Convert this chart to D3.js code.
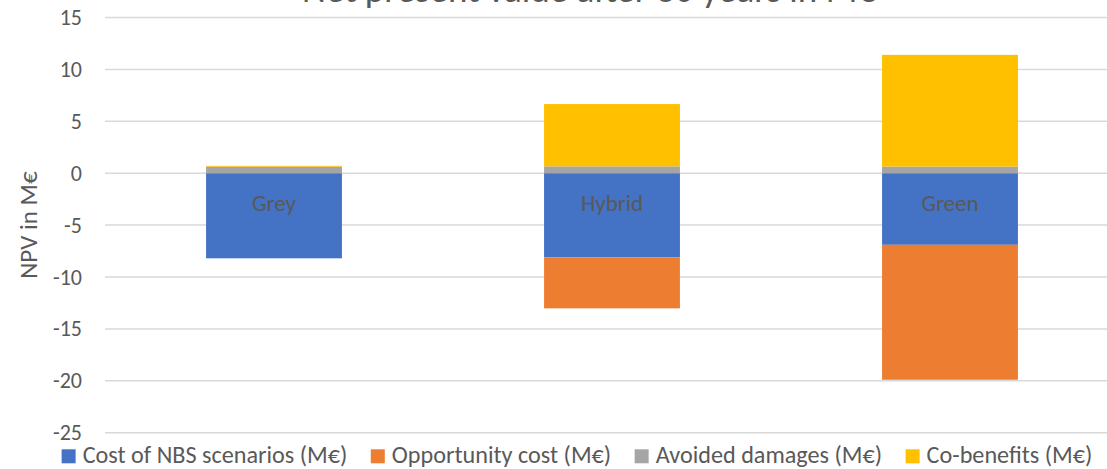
<!DOCTYPE html>
<html>
<head>
<meta charset="utf-8">
<script src="https://cdn.jsdelivr.net/npm/d3@7"></script>
<style>
  html, body { margin: 0; padding: 0; background: #fff; overflow: hidden; }
  text { font-family: Carlito, Calibri, Lato, sans-serif; fill: #595959; }
</style>
</head>
<body>
<svg id="chart" width="1107" height="469"></svg>
<script>
const categories = ["Grey", "Hybrid", "Green"];
const seriesNames = ["Cost of NBS scenarios (M€)", "Opportunity cost (M€)", "Avoided damages (M€)", "Co-benefits (M€)"];
const costNBS = [-8.2, -8.1, -6.9];
const opportunityCost = [0, -4.92, -13.0];
const avoidedDamages = [0.63, 0.66, 0.64];
const coBenefits = [0.08, 6.0, 10.76];
const yTicks = [15, 10, 5, 0, -5, -10, -15, -20, -25];
const colors = ["#4472C4", "#ED7D31", "#A5A5A5", "#FFC000"];
const titleText = "Net present value after 30 years in M€";
const yAxisTitle = "NPV in M€";

const svg = d3.select("#chart");
const W = 1107, H = 469;

const x = d3.scaleBand().domain(categories).range([105, 1119]).paddingInner(0.598).paddingOuter(0.299);
const y = d3.scaleLinear().domain([-25, 15]).range([432.7, 17.5]);

const seriesArrays = [costNBS, opportunityCost, avoidedDamages, coBenefits];
const table = categories.map((c, i) => {
  const row = { cat: c };
  seriesNames.forEach((s, k) => row[s] = seriesArrays[k][i]);
  return row;
});
const stack = d3.stack().keys(seriesNames).offset(d3.stackOffsetDiverging);
const stacked = stack(table);

// gridlines
svg.append("g").selectAll("line").data(yTicks).join("line")
  .attr("x1", 105).attr("x2", W)
  .attr("y1", d => y(d)).attr("y2", d => y(d))
  .attr("stroke", "#D9D9D9").attr("stroke-width", 1.5);

// tick labels
const yAxis = d3.axisLeft(y).tickValues(yTicks).tickSize(0).tickPadding(0).tickFormat(d => String(d));
const gy = svg.append("g").attr("transform", "translate(82,0)").call(yAxis);
gy.select(".domain").remove();
gy.selectAll("text").style("font-size", "22px").attr("fill", "#595959").style("font-family", "Carlito, Calibri, Lato, sans-serif");

// bars
svg.append("g").selectAll("g").data(stacked).join("g")
  .attr("fill", (d, i) => colors[i])
  .selectAll("rect").data(d => d).join("rect")
  .attr("x", d => x(d.data.cat))
  .attr("width", x.bandwidth())
  .attr("y", d => y(Math.max(d[0], d[1])))
  .attr("height", d => Math.abs(y(d[0]) - y(d[1])));

// category labels
svg.append("g").selectAll("text").data(categories).join("text")
  .attr("x", d => x(d) + x.bandwidth() / 2)
  .attr("y", y(0) + 38)
  .attr("text-anchor", "middle")
  .style("font-size", "23px")
  .text(d => d);

// title
svg.append("text").attr("x", 589).attr("y", 2).attr("text-anchor", "middle")
  .style("font-size", "37px").text(titleText);

// y axis title
svg.append("text").attr("transform", `translate(37,${(y(15) + y(-25)) / 2}) rotate(-90)`)
  .attr("text-anchor", "middle").style("font-size", "25px").text(yAxisTitle);

// legend
const lg = svg.append("g");
const items = lg.selectAll("g").data(seriesNames).join("g");
items.append("rect").attr("width", 14).attr("height", 14).attr("y", 449.3).attr("fill", (d, i) => colors[i]);
items.append("text").attr("x", 21).attr("y", 463).style("font-size", "24.2px").text(d => d);
let cx = 0;
const offsets = [];
items.each(function(d) {
  const w = d3.select(this).select("text").node().getComputedTextLength();
  offsets.push(cx);
  cx += 21 + w + 23.5;
});
const total = cx - 23.5;
const startX = 577 - total / 2;
items.attr("transform", (d, i) => `translate(${startX + offsets[i]},0)`);
</script>
</body>
</html>
